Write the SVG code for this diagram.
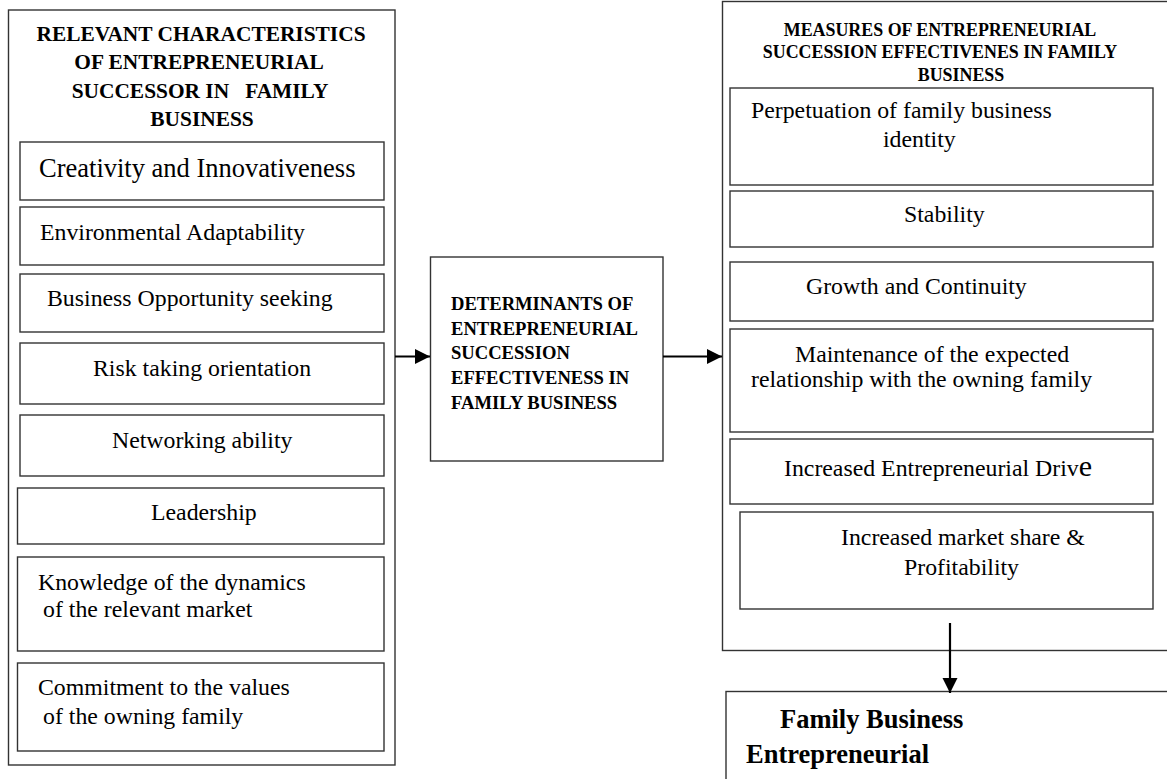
<svg xmlns="http://www.w3.org/2000/svg" width="1167" height="779" viewBox="0 0 1167 779">
  <style>
    .box { fill: #fff; stroke: #333; stroke-width: 1.4; }
    .edge { stroke: #000; stroke-width: 2.2; fill: none; }
  </style>
  <defs>
    <marker id="arrow" markerWidth="16" markerHeight="16" refX="15" refY="7.5" orient="auto" markerUnits="userSpaceOnUse">
      <path d="M0,0 L15,7.5 L0,15 Z" fill="#000"/>
    </marker>
  </defs>
  <rect width="1167" height="779" fill="#fff"/>

  <!-- Left column: characteristics of the successor -->
  <g id="characteristics">
    <rect class="box" x="8.5" y="10" width="386.5" height="755"/>
    <g font-family="Liberation Serif" font-weight="bold" font-size="21.4" text-anchor="middle">
      <text x="201" y="40.5">RELEVANT CHARACTERISTICS</text>
      <text x="199" y="69">OF ENTREPRENEURIAL</text>
      <text x="200" y="97.5" xml:space="preserve">SUCCESSOR IN   FAMILY</text>
      <text x="202" y="126">BUSINESS</text>
    </g>
  </g>
  <g id="creativity">
    <rect class="box" x="20" y="142" width="364" height="58"/>
    <text font-family="Liberation Serif" font-size="26.5" x="39" y="177">Creativity and Innovativeness</text>
  </g>
  <g id="adaptability">
    <rect class="box" x="20" y="207" width="364" height="58"/>
    <text font-family="Liberation Serif" font-size="23.8" x="40" y="239.5">Environmental Adaptability</text>
  </g>
  <g id="opportunity">
    <rect class="box" x="20" y="274" width="364" height="58"/>
    <text font-family="Liberation Serif" font-size="23.8" x="47" y="305.5">Business Opportunity seeking</text>
  </g>
  <g id="risk">
    <rect class="box" x="20" y="343" width="364" height="61"/>
    <text font-family="Liberation Serif" font-size="23.8" x="93" y="375.5">Risk taking orientation</text>
  </g>
  <g id="networking">
    <rect class="box" x="20" y="415" width="364" height="61"/>
    <text font-family="Liberation Serif" font-size="23.8" x="112" y="447.5">Networking ability</text>
  </g>
  <g id="leadership">
    <rect class="box" x="17.5" y="488" width="366.5" height="56"/>
    <text font-family="Liberation Serif" font-size="23.8" x="151" y="520">Leadership</text>
  </g>
  <g id="knowledge">
    <rect class="box" x="17.5" y="557" width="366.5" height="94"/>
    <g font-family="Liberation Serif" font-size="23.8">
      <text x="38" y="590">Knowledge of the dynamics</text>
      <text x="43" y="616.5">of the relevant market</text>
    </g>
  </g>
  <g id="commitment">
    <rect class="box" x="17.5" y="663" width="366.5" height="88"/>
    <g font-family="Liberation Serif" font-size="23.8">
      <text x="38" y="695">Commitment to the values</text>
      <text x="43" y="724">of the owning family</text>
    </g>
  </g>

  <!-- Centre: determinants -->
  <g id="determinants">
    <rect class="box" x="430.5" y="257" width="232.5" height="204"/>
    <g font-family="Liberation Serif" font-weight="bold" font-size="18.6">
      <text x="451" y="310">DETERMINANTS OF</text>
      <text x="451" y="334.5">ENTREPRENEURIAL</text>
      <text x="451" y="359">SUCCESSION</text>
      <text x="451" y="384">EFFECTIVENESS IN</text>
      <text x="451" y="408.5">FAMILY BUSINESS</text>
    </g>
  </g>

  <!-- Right column: measures of effectiveness -->
  <g id="measures">
    <rect class="box" x="722.5" y="1.5" width="460" height="649"/>
    <g font-family="Liberation Serif" font-weight="bold" font-size="17.9" text-anchor="middle">
      <text x="940" y="35.5">MEASURES OF ENTREPRENEURIAL</text>
      <text x="940" y="58">SUCCESSION EFFECTIVENES IN FAMILY</text>
      <text x="961" y="80.5">BUSINESS</text>
    </g>
  </g>
  <g id="perpetuation">
    <rect class="box" x="730" y="88" width="423" height="97"/>
    <g font-family="Liberation Serif" font-size="23.8">
      <text x="751" y="118">Perpetuation of family business</text>
      <text x="883" y="147">identity</text>
    </g>
  </g>
  <g id="stability">
    <rect class="box" x="730" y="191" width="423" height="56"/>
    <text font-family="Liberation Serif" font-size="23.8" x="904" y="221.5">Stability</text>
  </g>
  <g id="growth">
    <rect class="box" x="730" y="262" width="423" height="59"/>
    <text font-family="Liberation Serif" font-size="23.8" x="806" y="294">Growth and Continuity</text>
  </g>
  <g id="relationship">
    <rect class="box" x="730" y="329" width="423" height="103"/>
    <g font-family="Liberation Serif" font-size="23.8">
      <text x="795" y="361.5">Maintenance of the expected</text>
      <text x="751" y="386.5">relationship with the owning family</text>
    </g>
  </g>
  <g id="drive">
    <rect class="box" x="730" y="439" width="423" height="65"/>
    <text font-family="Liberation Serif" font-size="23.8" x="784" y="475.5">Increased Entrepreneurial Driv<tspan font-size="30">e</tspan></text>
  </g>
  <g id="market">
    <rect class="box" x="740" y="512" width="413" height="97"/>
    <g font-family="Liberation Serif" font-size="23.8">
      <text x="841" y="545">Increased market share &amp;</text>
      <text x="904" y="575">Profitability</text>
    </g>
  </g>

  <!-- Outcome -->
  <g id="outcome">
    <rect class="box" x="726" y="691.5" width="460" height="100"/>
    <g font-family="Liberation Serif" font-weight="bold" font-size="26.5">
      <text x="780" y="728">Family Business</text>
      <text x="746" y="763">Entrepreneurial</text>
    </g>
  </g>

  <!-- Connectors -->
  <g id="connectors">
    <line class="edge" x1="395" y1="356.5" x2="430" y2="356.5" marker-end="url(#arrow)"/>
    <line class="edge" x1="663" y1="356.5" x2="722" y2="356.5" marker-end="url(#arrow)"/>
    <line class="edge" x1="950" y1="623" x2="950" y2="693" marker-end="url(#arrow)"/>
  </g>
</svg>
